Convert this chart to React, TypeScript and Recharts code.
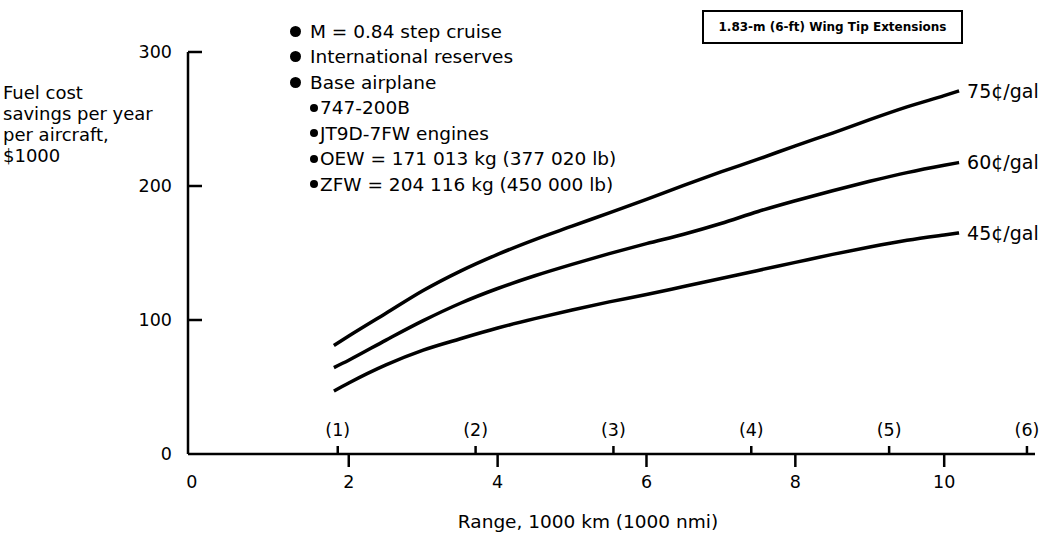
import React from 'react';
import { LineChart, Line, XAxis, YAxis } from 'recharts';

// ---- data ----
const rangeKm = [1.8, 2, 2.5, 3, 3.5, 4, 4.5, 5, 5.5, 6, 6.5, 7, 7.5, 8, 8.5, 9, 9.5, 10, 10.2];
const cents75 = [81, 88, 105, 122, 136.5, 149, 160, 170, 180, 190, 200.5, 210.5, 220, 230, 239.5, 249.5, 259, 267.5, 271];
const cents60 = [64.5, 70, 85, 99.5, 112.5, 123.5, 133, 141.5, 149.5, 157, 164, 172, 181, 189, 196.5, 203.5, 210, 215.5, 217.5];
const cents45 = [47, 53, 66.5, 77.5, 86, 94, 101, 107.5, 113.5, 119, 125, 131, 137, 143, 149, 154.5, 159.5, 163.5, 165];

const seriesKeys = ['c75', 'c60', 'c45'];
const seriesLabels = ['75¢/gal', '60¢/gal', '45¢/gal'];

const kmTicks = [0, 2, 4, 6, 8, 10];
const nmiTicks = [1, 2, 3, 4, 5, 6];
const KM_PER_NMI = 1.852;
const nmiTickKm = nmiTicks.map((n) => n * KM_PER_NMI);
const yTicks = [0, 100, 200, 300];

const conditions = ['M = 0.84 step cruise', 'International reserves', 'Base airplane'];
const baseAirplane = ['747-200B', 'JT9D-7FW engines', 'OEW = 171 013 kg (377 020 lb)', 'ZFW = 204 116 kg (450 000 lb)'];
const yAxisTitle = ['Fuel cost', 'savings per year', 'per aircraft,', '$1000'];
const xAxisTitle = 'Range, 1000 km (1000 nmi)';
const boxTitle = '1.83-m (6-ft) Wing Tip Extensions';

const data = rangeKm.map((km, i) => ({ km, c75: cents75[i], c60: cents60[i], c45: cents45[i] }));

const FONT = '"DejaVu Sans", Arial, sans-serif';
const INK = '#000';
const X_DOMAIN: [number, number] = [-0.16, 11.22];

const YTick = (props: any) => {
  const { x, y, payload } = props;
  return (
    <g>
      {payload.value !== 0 && <line x1={x} x2={x + 14} y1={y} y2={y} stroke={INK} strokeWidth={2.5} />}
      <text x={x - 16} y={y} dy="0.35em" textAnchor="end" fontSize={17.5} fontFamily={FONT} fill={INK}>
        {payload.value}
      </text>
    </g>
  );
};

const KmTick = (props: any) => {
  const { x, y, payload } = props;
  const lx = payload.value === 0 ? x - 8 : x;
  return (
    <g>
      {payload.value !== 0 && <line x1={x} x2={x} y1={y} y2={y + 13} stroke={INK} strokeWidth={2.5} />}
      <text x={lx} y={y + 28} dy="0.35em" textAnchor="middle" fontSize={17.5} fontFamily={FONT} fill={INK}>
        {payload.value}
      </text>
    </g>
  );
};

const NmiTick = (props: any) => {
  const { x, y, payload } = props;
  const n = Math.round(payload.value / KM_PER_NMI);
  return (
    <g>
      <line x1={x} x2={x} y1={y - 1} y2={y - 9} stroke={INK} strokeWidth={2.5} />
      <text x={x} y={y - 25} dy="0.35em" textAnchor="middle" fontSize={17.5} fontFamily={FONT} fill={INK}>
        {`(${n})`}
      </text>
    </g>
  );
};

const endLabel = (text: string) => (props: any) => {
  const { x, y, index } = props;
  if (index !== rangeKm.length - 1) return <g />;
  return (
    <text x={x + 8} y={y} dy="0.35em" fontSize={19} fontFamily={FONT} fill={INK}>
      {text}
    </text>
  );
};

export default function App() {
  return (
    <div
      style={{
        position: 'absolute',
        left: 0,
        top: 0,
        width: 1048,
        height: 538,
        background: '#fff',
        fontFamily: FONT,
        color: INK,
        overflow: 'hidden',
      }}
    >
      <LineChart width={1048} height={538} data={data} margin={{ top: 52, right: 13, bottom: 82, left: 187 }}>
        <XAxis
          xAxisId="km"
          dataKey="km"
          type="number"
          domain={X_DOMAIN}
          allowDataOverflow
          ticks={kmTicks}
          interval={0}
          height={1}
          tickSize={0}
          tickMargin={0}
          tickLine={false}
          axisLine={{ stroke: INK, strokeWidth: 2.5 }}
          tick={(p: any) => <KmTick {...p} />}
        />
        <XAxis
          xAxisId="nmi"
          dataKey="km"
          type="number"
          domain={X_DOMAIN}
          allowDataOverflow
          ticks={nmiTickKm}
          interval={0}
          height={1}
          tickSize={0}
          tickMargin={0}
          tickLine={false}
          axisLine={false}
          tick={(p: any) => <NmiTick {...p} />}
        />
        <YAxis
          type="number"
          domain={[0, 300]}
          ticks={yTicks}
          interval={0}
          width={1}
          tickSize={0}
          tickMargin={0}
          tickLine={false}
          axisLine={{ stroke: INK, strokeWidth: 2.5 }}
          tick={(p: any) => <YTick {...p} />}
        />
        {seriesKeys.map((k, i) => (
          <Line
            key={k}
            xAxisId="km"
            dataKey={k}
            type="monotone"
            stroke={INK}
            strokeWidth={3.5}
            dot={false}
            activeDot={false}
            isAnimationActive={false}
            label={endLabel(seriesLabels[i])}
          />
        ))}
      </LineChart>

      {/* condition notes */}
      {conditions.map((t, i) => (
        <div
          key={t}
          style={{
            position: 'absolute',
            left: 290,
            top: 20 + i * 25.5,
            height: 22,
            display: 'flex',
            alignItems: 'center',
            whiteSpace: 'nowrap',
            fontSize: 18.5,
          }}
        >
          <span style={{ width: 11, height: 11, borderRadius: 6, background: INK, display: 'inline-block', marginRight: 9 }} />
          <span>{t}</span>
        </div>
      ))}
      {baseAirplane.map((t, i) => (
        <div
          key={t}
          style={{
            position: 'absolute',
            left: 310,
            top: 96.5 + i * 25.5,
            height: 22,
            display: 'flex',
            alignItems: 'center',
            whiteSpace: 'nowrap',
            fontSize: 18.5,
          }}
        >
          <span style={{ width: 8, height: 8, borderRadius: 4, background: INK, display: 'inline-block', marginRight: 2 }} />
          <span>{t}</span>
        </div>
      ))}

      {/* y axis title */}
      <div style={{ position: 'absolute', left: 3, top: 82, fontSize: 18, lineHeight: '21px', whiteSpace: 'nowrap' }}>
        {yAxisTitle.map((t) => (
          <div key={t}>{t}</div>
        ))}
      </div>

      {/* x axis title */}
      <div
        style={{
          position: 'absolute',
          left: 588,
          top: 511,
          transform: 'translateX(-50%)',
          fontSize: 18.5,
          lineHeight: '22px',
          whiteSpace: 'nowrap',
        }}
      >
        {xAxisTitle}
      </div>

      {/* title box */}
      <div
        style={{
          position: 'absolute',
          left: 702,
          top: 10,
          width: 261,
          height: 34,
          boxSizing: 'border-box',
          border: `2px solid ${INK}`,
          display: 'flex',
          alignItems: 'center',
          justifyContent: 'center',
          fontSize: 12,
          fontWeight: 'bold',
          whiteSpace: 'nowrap',
        }}
      >
        {boxTitle}
      </div>
    </div>
  );
}
